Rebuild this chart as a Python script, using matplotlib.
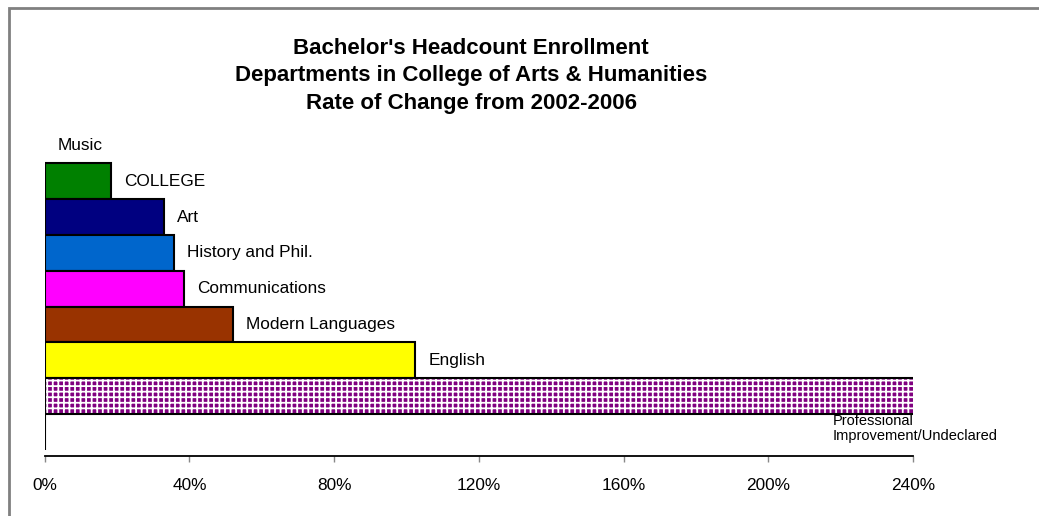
import matplotlib
matplotlib.use("Agg")
import matplotlib.pyplot as plt
from matplotlib.patches import Rectangle
from matplotlib.ticker import FuncFormatter

plt.rcParams['font.family'] = ['Liberation Sans', 'DejaVu Sans']
plt.rcParams['hatch.linewidth'] = 1.3

# Data (top to bottom)
categories = ["Music", "COLLEGE", "Art", "History and Phil.", "Communications",
              "Modern Languages", "English", "Professional\nImprovement/Undeclared", ""]
values = [0.0, 18.3, 32.9, 35.8, 38.4, 52.1, 102.4, 265.0, 0.0]
colors = ["#008000", "#008000", "#000080", "#0066CC", "#FF00FF",
          "#993300", "#FFFF00", "#800080", "#FFFFFF"]
xticks = [0, 40, 80, 120, 160, 200, 240]
title_lines = ["Bachelor's Headcount Enrollment",
               "Departments in College of Arts & Humanities",
               "Rate of Change from 2002-2006"]

W, H = 1039, 516
fig = plt.figure(figsize=(W / 100, H / 100), dpi=100)
fig.patch.set_facecolor("white")

ax_left, ax_right = 44.7 / W, 913 / W
ax_bottom, ax_top = (H - 456) / H, (H - 127.5) / H
ax = fig.add_axes([ax_left, ax_bottom, ax_right - ax_left, ax_top - ax_bottom])

pos = list(range(len(categories)))
hatched_idx = 7
for i, (v, c) in enumerate(zip(values, colors)):
    if i == 0:
        continue  # zero bar, no visible mark
    if i == hatched_idx:
        ax.barh(pos[i], v, height=1.0, color=c, edgecolor="white", hatch="+++",
                linewidth=0, zorder=2)
        ax.barh(pos[i], v, height=1.0, facecolor="none", edgecolor="black",
                linewidth=1.5, zorder=3)
    else:
        ax.barh(pos[i], v, height=1.0, color=c, edgecolor="black",
                linewidth=1.5, zorder=3)

# labels
for i, (lab, v) in enumerate(zip(categories, values)):
    if not lab:
        continue
    if i == hatched_idx:
        ax.text(217.8, pos[i] + 0.5, lab, ha="left", va="top", fontsize=10.5,
                linespacing=1.08, color="black", clip_on=False, zorder=5)
    else:
        ax.annotate(lab, xy=(v, pos[i]), xytext=(9.4, 0), textcoords="offset points",
                    ha="left", va="center", fontsize=12.4, color="black",
                    annotation_clip=False)

ax.set_xlim(0, 240)
ax.set_ylim(8.5 + 6 / 35.83, -0.5)
ax.set_xticks(xticks)
ax.xaxis.set_major_formatter(FuncFormatter(lambda x, p: f"{x:.0f}%"))
ax.set_yticks([])
for s in ["top", "right", "left"]:
    ax.spines[s].set_visible(False)
ax.spines["bottom"].set_color("black")
ax.spines["bottom"].set_linewidth(1.3)
ax.tick_params(axis="x", direction="out", length=4.5, width=1, color="#888888",
               labelsize=12.4, pad=11, labelcolor="black")

# title
title_x = 471 / W
for ty, line in zip([48, 76, 103], title_lines):
    fig.text(title_x, (H - ty) / H, line, ha="center", va="center",
             fontsize=16, fontweight="bold", color="black")

# chart frame
fig.add_artist(Rectangle((8.5 / W, -0.1), 1.2, (H - 8) / H + 0.1,
                         transform=fig.transFigure, fill=False,
                         edgecolor="#808080", linewidth=2))

fig.savefig("out.png", dpi=100, facecolor="white")
